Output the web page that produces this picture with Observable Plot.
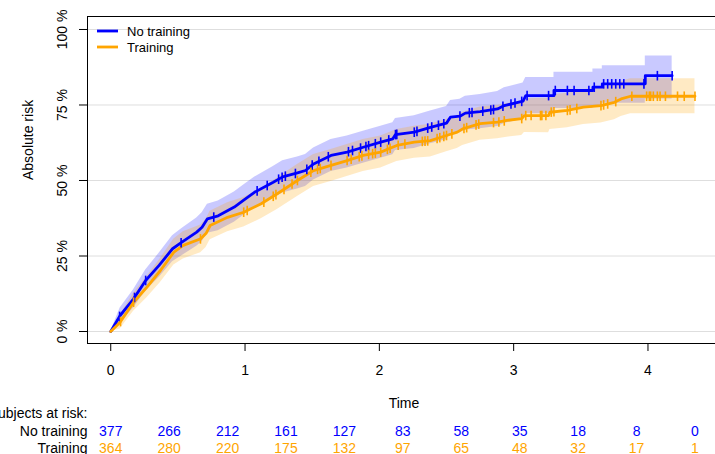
<!DOCTYPE html>
<html><head><meta charset="utf-8">
<script src="https://cdn.jsdelivr.net/npm/d3@7"></script>
<script src="https://cdn.jsdelivr.net/npm/@observablehq/plot@0.6"></script>
<style>
html,body{margin:0;padding:0;overflow:hidden;background:#fff;}
#chart{width:715px;height:454px;overflow:hidden;position:relative;}
#chart svg{max-width:none !important;width:720px;height:454px;}
</style></head><body><div id="chart"></div>
<script>
// ---- data ----
const groups = ["No training", "Training"];
const colors = ["blue", "orange"];
const yTicks = [0, 25, 50, 75, 100];
const xTicks = [0, 1, 2, 3, 4];

// No training: traced curve vertices (time, absolute risk %) and band
const noTime = [0,0.07,0.17,0.26,0.36,0.46,0.53,0.64,0.68,0.72,0.80,0.92,0.99,1.07,1.21,1.28,1.39,1.45,1.51,1.64,1.76,1.88,2.01,2.10,2.12,2.26,2.38,2.50,2.53,2.60,2.64,2.75,2.88,2.93,3.07,3.09,3.30,3.30,3.59,3.59,3.66,3.66,3.98,3.98,4.18];
const noRisk = [0,5.3,10.8,16.9,21.9,27.4,29.6,32.9,34.5,37.3,38.3,41.2,43.5,46.1,49.4,51.2,52.5,53.3,55.5,58.3,59.4,61.0,62.7,63.8,65.2,66.0,67.6,69.0,71.0,71.3,72.3,72.8,73.7,74.8,76.3,78.1,78.1,79.8,79.8,80.9,80.9,82.0,82.0,84.7,84.7];
const noLower = [0,2.8,7.8,13.4,17.9,23.1,25.1,28.2,29.7,32.5,33.4,36.2,38.5,41.1,44.2,45.9,47.2,48.0,50.2,53.0,54.1,55.7,57.4,58.5,59.9,60.6,62.2,63.5,65.5,65.7,66.7,67.1,67.9,68.9,70.3,72.1,72.1,73.8,73.8,74.7,74.7,75.6,75.6,77.0,77.0];
const noUpper = [0,7.8,13.8,20.4,25.9,31.7,34.1,37.6,39.3,42.1,43.2,46.2,48.5,51.1,54.6,56.5,57.8,58.6,60.8,63.6,64.7,66.3,68.0,69.1,70.5,71.4,73.0,74.5,76.5,76.9,77.9,78.5,79.5,80.7,82.3,84.1,84.1,85.8,85.8,86.9,86.9,88.0,88.0,91.2,91.2];
const noCensor = [0.066,0.177,0.26,0.524,0.767,1.09,1.165,1.25,1.276,1.30,1.375,1.46,1.50,1.55,1.62,1.77,1.80,1.86,1.90,1.92,1.97,2.01,2.07,2.12,2.13,2.26,2.28,2.36,2.39,2.44,2.48,2.60,2.67,2.69,2.77,2.83,2.85,2.92,2.98,3.01,3.06,3.10,3.26,3.31,3.40,3.45,3.56,3.60,3.67,3.70,3.73,3.76,3.79,3.82,3.97,4.07,4.18];

// Training
const trTime = [0,0.07,0.17,0.27,0.37,0.47,0.54,0.67,0.71,0.74,0.87,0.99,1.12,1.24,1.39,1.51,1.64,1.76,1.88,2.01,2.13,2.26,2.38,2.50,2.58,2.62,2.75,2.88,2.95,3.06,3.08,3.26,3.27,3.40,3.52,3.65,3.75,3.80,3.87,4.35];
const trRisk = [0,3.1,9.7,14.7,20.2,26.3,28.5,30.7,32.5,35.1,37.8,39.5,42.3,45.6,50.0,53.3,55.0,56.6,58.3,59.4,61.6,62.7,63.2,64.9,66.0,67.1,68.8,69.3,69.9,70.5,71.5,71.5,72.6,73.2,74.3,74.8,75.9,77.0,77.9,77.9];
const trLower = [0,0.8,6.7,11.2,16.2,22.0,24.0,26.1,27.8,30.4,33.0,34.6,37.3,40.4,44.7,48.0,49.7,51.3,53.0,54.1,56.3,57.4,57.8,59.5,60.6,61.6,63.3,63.8,64.3,64.9,65.9,65.8,66.9,67.5,68.5,69.0,70.1,71.2,72.1,72.1];
const trUpper = [0,5.4,12.7,18.2,24.2,30.6,33.0,35.3,37.2,39.8,42.6,44.4,47.3,50.8,55.3,58.6,60.3,61.9,63.6,64.7,66.9,68.0,68.6,70.3,71.4,72.6,74.3,74.8,75.5,76.1,77.1,77.2,78.3,78.9,80.1,80.6,81.7,82.8,83.7,83.7];
const trCensor = [0.073,0.17,0.668,0.99,1.016,1.14,1.21,1.23,1.29,1.35,1.39,1.49,1.54,1.56,1.64,1.76,1.79,1.85,1.87,1.92,1.95,1.97,2.01,2.06,2.08,2.14,2.19,2.32,2.34,2.36,2.43,2.45,2.48,2.50,2.54,2.63,2.65,2.72,2.74,2.85,2.89,2.93,3.06,3.09,3.13,3.20,3.21,3.24,3.28,3.30,3.40,3.42,3.47,3.65,3.67,3.70,3.76,3.88,3.99,4.01,4.02,4.04,4.07,4.09,4.13,4.22,4.27,4.35];

// Subjects at risk table
const riskTimes = [0,0.435,0.87,1.305,1.74,2.175,2.61,3.045,3.48,3.915,4.35];
const riskNo = [377,266,212,161,127,83,58,35,18,8,0];
const riskTr = [364,280,220,175,132,97,65,48,32,17,1];

// ---- build tables ----
function curveRows(t, v, lo, hi, g) {
  return t.map((d, i) => ({time: d, risk: v[i], lower: lo[i], upper: hi[i], group: g}));
}
const noRows = curveRows(noTime, noRisk, noLower, noUpper, groups[0]);
const trRows = curveRows(trTime, trRisk, trLower, trUpper, groups[1]);
function valueAt(t, v, x) {
  // value of the traced curve at time x (after any jump at x)
  let k = 0;
  for (let i = 0; i < t.length; i++) if (t[i] <= x) k = i;
  if (k >= t.length - 1 || t[k + 1] === t[k]) return v[k];
  const f = (x - t[k]) / (t[k + 1] - t[k]);
  return v[k] + f * (v[k + 1] - v[k]);
}
const censorRows = [
  ...noCensor.map(x => ({time: x, risk: valueAt(noTime, noRisk, x), group: groups[0]})),
  ...trCensor.map(x => ({time: x, risk: valueAt(trTime, trRisk, x), group: groups[1]}))
];
const riskRowsNo = riskTimes.map((t, i) => ({time: t, n: riskNo[i]}));
const riskRowsTr = riskTimes.map((t, i) => ({time: t, n: riskTr[i]}));

const vbar = {draw(ctx, size) { const r = Math.sqrt(size / Math.PI); ctx.moveTo(0, -r); ctx.lineTo(0, r); }};
const FONT = "'Liberation Sans', Arial, sans-serif";

const plot = Plot.plot({
  width: 720, height: 454,
  marginLeft: 87, marginRight: 0, marginTop: 16, marginBottom: 111,
  style: {fontFamily: FONT, fontSize: "14px", background: "white", color: "black", maxWidth: "none"},
  x: {domain: [-0.173, 4.54], ticks: xTicks, tickSize: 8, tickPadding: 14, tickFormat: d => String(d), label: null},
  y: {domain: [-3.97, 104.3], ticks: yTicks, tickSize: 8, tickFormat: () => "", label: null},
  color: {domain: groups, range: colors},
  marks: [
    Plot.ruleY(yTicks, {stroke: "#dedede", strokeWidth: 1}),
    Plot.areaY(noRows, {x: "time", y1: "lower", y2: "upper", fill: colors[0], fillOpacity: 0.21}),
    Plot.areaY(trRows, {x: "time", y1: "lower", y2: "upper", fill: colors[1], fillOpacity: 0.23}),
    Plot.line(noRows, {x: "time", y: "risk", stroke: colors[0], strokeWidth: 2.8}),
    Plot.line(trRows, {x: "time", y: "risk", stroke: colors[1], strokeWidth: 2.8}),
    Plot.dot(censorRows, {x: "time", y: "risk", stroke: "group", symbol: vbar, r: 4.8, strokeWidth: 1.6, fill: "none"}),
    Plot.frame({stroke: "black", strokeWidth: 1}),
    Plot.text(yTicks, {y: d => d, text: d => d + " %", frameAnchor: "left", dx: -25, rotate: -90, textAnchor: "middle"}),
    Plot.text(["Absolute risk"], {text: d => d, frameAnchor: "left", dx: -59, rotate: -90}),
    Plot.text(["Time"], {text: d => d, frameAnchor: "bottom", dy: 64}),
    Plot.text(["Subjects at risk:"], {text: d => d, frameAnchor: "bottom-left", dy: 74, textAnchor: "end"}),
    Plot.text([groups[0]], {text: d => d, frameAnchor: "bottom-left", dy: 92, textAnchor: "end"}),
    Plot.text([groups[1]], {text: d => d, frameAnchor: "bottom-left", dy: 109, textAnchor: "end"}),
    Plot.text(riskRowsNo, {x: "time", text: "n", frameAnchor: "bottom", dy: 92, fill: colors[0]}),
    Plot.text(riskRowsTr, {x: "time", text: "n", frameAnchor: "bottom", dy: 109, fill: colors[1]})
  ]
});

// legend (top-left inside the frame)
const svg = d3.select(plot);
const lg = svg.append("g").attr("font-family", FONT).attr("font-size", "13px").attr("text-anchor", "start");
groups.forEach((g, i) => {
  const y = 31 + i * 16;
  lg.append("line").attr("x1", 97).attr("x2", 118).attr("y1", y).attr("y2", y).attr("stroke", colors[i]).attr("stroke-width", 2.8);
  lg.append("text").attr("x", 127).attr("y", y).attr("dy", "0.35em").attr("text-anchor", "start").attr("fill", "black").text(g);
});
document.getElementById("chart").appendChild(plot);
</script></body></html>
